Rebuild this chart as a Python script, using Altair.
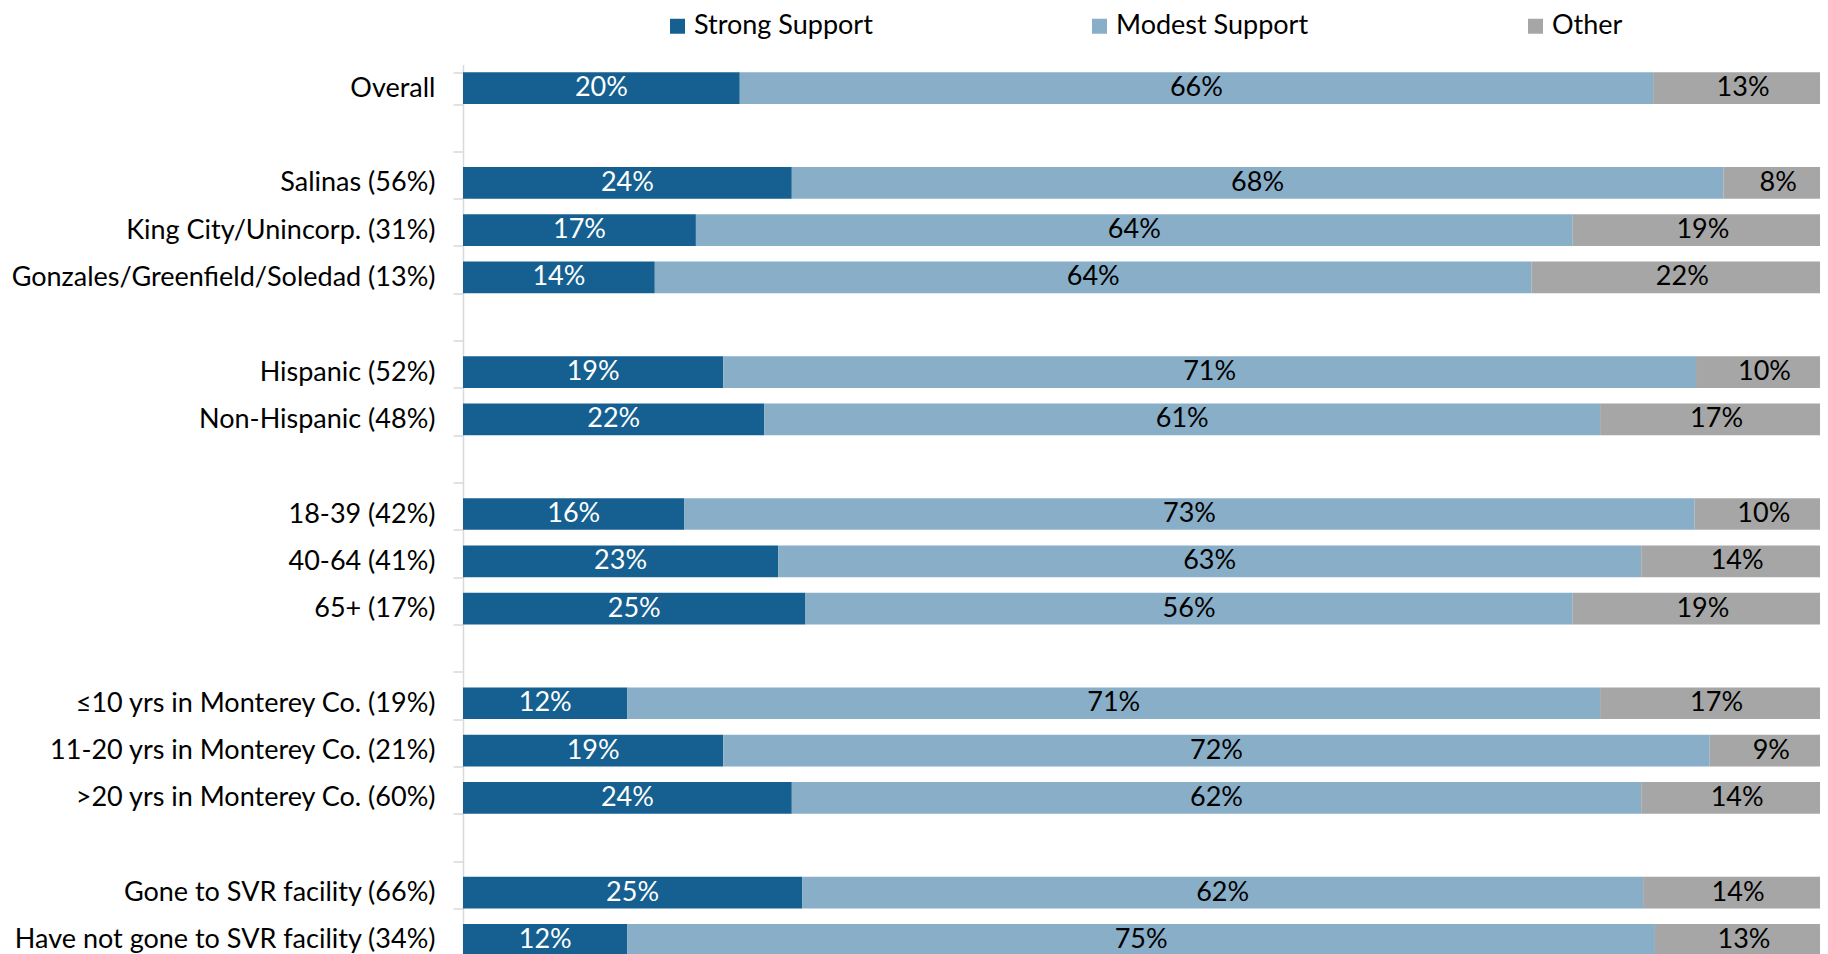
import altair as alt
import pandas as pd

groups = [
    "Overall",
    "Salinas (56%)",
    "King City/Unincorp. (31%)",
    "Gonzales/Greenfield/Soledad (13%)",
    "Hispanic (52%)",
    "Non-Hispanic (48%)",
    "18-39 (42%)",
    "40-64 (41%)",
    "65+ (17%)",
    "≤10 yrs in Monterey Co. (19%)",
    "11-20 yrs in Monterey Co. (21%)",
    ">20 yrs in Monterey Co. (60%)",
    "Gone to SVR facility (66%)",
    "Have not gone to SVR facility (34%)",
]
# row order on the axis, blank strings are the empty spacer rows
row_order = [
    "Overall", " ",
    "Salinas (56%)", "King City/Unincorp. (31%)", "Gonzales/Greenfield/Soledad (13%)", "  ",
    "Hispanic (52%)", "Non-Hispanic (48%)", "   ",
    "18-39 (42%)", "40-64 (41%)", "65+ (17%)", "    ",
    "≤10 yrs in Monterey Co. (19%)", "11-20 yrs in Monterey Co. (21%)", ">20 yrs in Monterey Co. (60%)", "     ",
    "Gone to SVR facility (66%)", "Have not gone to SVR facility (34%)",
]
series = ["Strong Support", "Modest Support", "Other"]
strong = [20, 24, 17, 14, 19, 22, 16, 23, 25, 12, 19, 24, 25, 12]
modest = [66, 68, 64, 64, 71, 61, 73, 63, 56, 71, 72, 62, 62, 75]
other = [13, 8, 19, 22, 10, 17, 10, 14, 19, 17, 9, 14, 14, 13]
colors = ["#156090", "#88AEC8", "#A6A6A6"]

rows = []
for i, g in enumerate(groups):
    for j, vals in enumerate([strong, modest, other]):
        rows.append({"group": g, "series": series[j], "value": vals[i], "order": j})
df = pd.DataFrame(rows)

FONT = "Lato"
FS = 27

base = alt.Chart(df).transform_stack(
    stack="value",
    groupby=["group"],
    sort=[alt.SortField("order", order="ascending")],
    offset="normalize",
    as_=["v0", "v1"],
).transform_calculate(
    mid="(datum.v0 + datum.v1) / 2",
    label="datum.value + '%'",
)

yenc = alt.Y(
    "group:N",
    scale=alt.Scale(domain=row_order, paddingInner=0.33, paddingOuter=0.165),
    axis=alt.Axis(
        title=None,
        tickBand="extent",
        domainColor="#D9D9D9",
        tickColor="#D9D9D9",
        domainWidth=1.5,
        tickWidth=1.5,
        tickSize=10,
        labelPadding=18,
        labelFont=FONT,
        labelFontSize=FS,
        labelColor="#000000",
        labelLimit=600,
        grid=False,
    ),
)
xscale = alt.Scale(domain=[0, 0.9905], clamp=True, nice=False)

bars = base.mark_bar(clip=True).encode(
    x=alt.X("v0:Q", scale=xscale, axis=None),
    x2="v1:Q",
    y=yenc,
    color=alt.Color(
        "series:N",
        scale=alt.Scale(domain=series, range=colors),
        legend=alt.Legend(
            title=None,
            orient="none",
            legendX=201,
            legendY=-52,
            direction="horizontal",
            columnPadding=213,
            symbolType="square",
            symbolSize=225,
            symbolStrokeWidth=0,
            symbolOffset=0,
            labelOffset=3,
            labelFont=FONT,
            labelFontSize=FS,
            labelColor="#000000",
            labelLimit=400,
            padding=0,
        ),
    ),
    order=alt.Order("order:Q"),
)

texts = base.mark_text(
    font=FONT, fontSize=FS, baseline="middle", align="center", clip=True
).encode(
    x=alt.X("mid:Q", scale=xscale, axis=None),
    y=yenc,
    text="label:N",
    color=alt.condition(
        alt.datum.series == "Strong Support", alt.value("#FFFFFF"), alt.value("#000000")
    ),
)

chart = alt.layer(bars, texts).properties(
    width=1357,
    height=899,
    padding={"left": 455, "top": 56.5, "right": 0, "bottom": 0},
    autosize=alt.AutoSizeParams(type="none"),
).configure(background="#FFFFFF").configure_view(stroke=None)

chart.save("out.html", embed_options={"renderer": "svg", "actions": False})
